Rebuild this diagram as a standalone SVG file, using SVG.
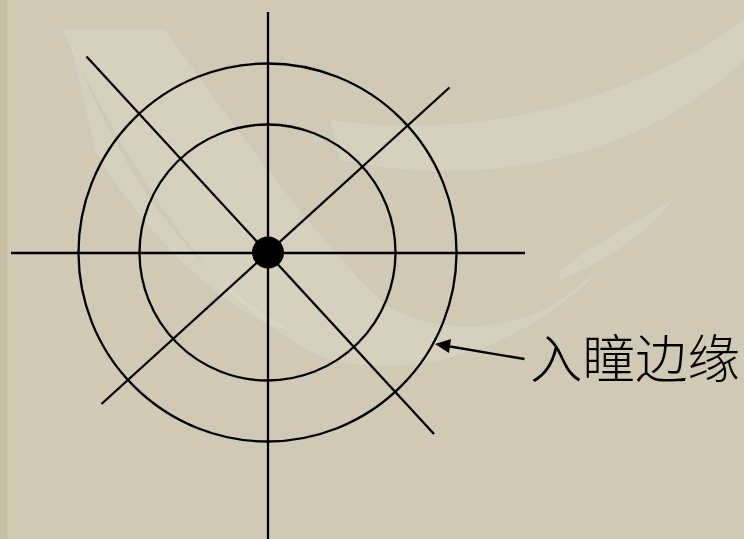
<svg xmlns="http://www.w3.org/2000/svg" width="744" height="539" viewBox="0 0 744 539">
  <style>
    .ln { stroke: #000; stroke-width: 2.3; fill: none; }
    .swoosh { fill: #E2DECC; opacity: 0.4; }
    .lbl { font-family: "Noto Sans CJK SC", "Noto Sans", sans-serif; font-size: 52.5px; font-weight: 300; fill: #000; }
  </style>
  <rect width="744" height="539" fill="#CFC9B5"/>
  <rect x="0" y="0" width="7" height="539" fill="#C6C1A6"/>
  <g id="background">
    <path class="swoosh" d="M62,30 L165,30 C230,120 300,220 380,300 C430,340 520,330 560,300 L600,270 C520,350 420,380 330,360 C230,320 150,210 62,30 z"/>
    <path class="swoosh" d="M70,40 C110,150 180,270 290,330 C230,320 140,230 95,150 z"/>
    <path class="swoosh" d="M330,120 C460,140 620,110 744,20 L744,60 C640,160 480,190 340,160 z"/>
    <path class="swoosh" d="M560,270 C600,240 640,220 672,200 C650,230 610,260 560,280 z"/>
  </g>
  <g id="outer-circle">
    <circle class="ln" cx="267.5" cy="252.5" r="189"/>
  </g>
  <g id="inner-circle">
    <circle class="ln" cx="267.5" cy="252.5" r="128"/>
  </g>
  <g id="axes">
    <line class="ln" x1="268" y1="12" x2="268" y2="539"/>
    <line class="ln" x1="11" y1="253" x2="525" y2="253"/>
    <line class="ln" x1="86.5" y1="56.5" x2="434" y2="434"/>
    <line class="ln" x1="449.5" y1="87.5" x2="101.5" y2="404"/>
  </g>
  <g id="center-dot">
    <circle cx="268" cy="252.5" r="16" fill="#000"/>
  </g>
  <g id="connectors">
    <line class="ln" x1="524.5" y1="359" x2="450" y2="346.5"/>
    <path d="M435,344 L451,339 L449,353 z" fill="#000"/>
  </g>
  <g id="label">
    <text class="lbl" x="530" y="378">入瞳边缘</text>
  </g>
</svg>
